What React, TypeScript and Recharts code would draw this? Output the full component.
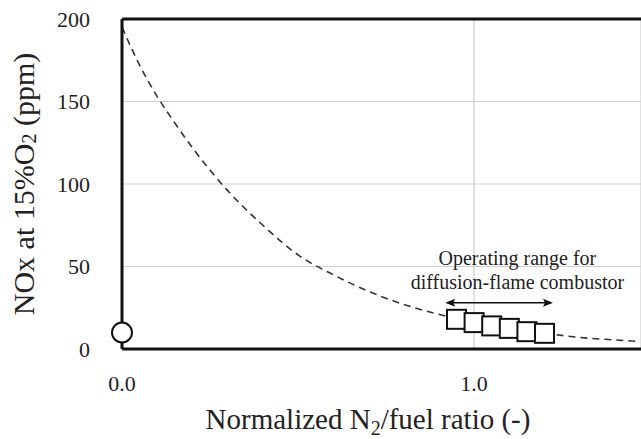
import React from 'react';
import {
  ComposedChart,
  Line,
  Scatter,
  XAxis,
  YAxis,
  CartesianGrid,
  ReferenceLine,
  ReferenceDot,
  Label,
} from 'recharts';

const curveX = [0, 0.05, 0.1, 0.15, 0.2, 0.3, 0.4, 0.5, 0.6, 0.7, 0.8, 0.9, 1.0, 1.1, 1.2, 1.3, 1.4, 1.47];
const curveY = [195, 172, 153, 137, 122, 96, 75, 57, 45, 35, 27, 21, 16, 12, 9.5, 7, 5.5, 4.5];

const rangeX = [0.95, 1.0, 1.05, 1.1, 1.15, 1.2];
const rangeY = [18, 16, 14, 12.5, 10.5, 9.5];

const baseX = [0];
const baseY = [10];

const xTicks = [0, 1];
const yTicks = [0, 50, 100, 150, 200];

const arrowX = [0.918, 1.224];
const arrowY = 28;

const noteX = 1.123;
const noteY = [55, 40.5];
const noteLines = ['Operating range for', 'diffusion-flame combustor'];

const curveData = curveX.map((x, i) => ({ x, y: curveY[i] }));
const rangeData = rangeX.map((x, i) => ({ x, y: rangeY[i] }));
const baseData = baseX.map((x, i) => ({ x, y: baseY[i] }));

const FONT = '"Liberation Serif", "Times New Roman", serif';
const INK = '#222';

const SquareShape = (p: any) => (
  <rect x={p.cx - 9.5} y={p.cy - 9.5} width={19} height={19} fill="#fff" stroke="#111" strokeWidth={2} />
);
const CircleShape = (p: any) => (
  <circle cx={p.cx} cy={p.cy} r={10} fill="#fff" stroke="#111" strokeWidth={2} />
);

const ArrowShape = (p: any) => {
  const { x1, y1, x2, y2 } = p;
  const L = 10;
  const W = 4;
  return (
    <g>
      <line x1={x1 + 2} y1={y1} x2={x2 - 2} y2={y2} stroke="#111" strokeWidth={1.6} />
      <polygon points={`${x1},${y1} ${x1 + L},${y1 - W} ${x1 + L - 2},${y1} ${x1 + L},${y1 + W}`} fill="#111" />
      <polygon points={`${x2},${y2} ${x2 - L},${y2 - W} ${x2 - L + 2},${y2} ${x2 - L},${y2 + W}`} fill="#111" />
    </g>
  );
};

const YLabel = (p: any) => {
  const vb = p.viewBox || { x: 0, y: 0, width: 0, height: 0 };
  const cx = vb.x + 23;
  const cy = vb.y + vb.height / 2;
  return (
    <text
      x={cx}
      y={cy}
      transform={`rotate(-90, ${cx}, ${cy})`}
      textAnchor="middle"
      dominantBaseline="central"
      fontFamily={FONT}
      fontSize={30}
      fill={INK}
    >
      <tspan>NOx at 15%O</tspan>
      <tspan fontSize={20} dy={6}>2</tspan>
      <tspan dy={-6}> (ppm)</tspan>
    </text>
  );
};

const XLabel = (p: any) => {
  const vb = p.viewBox || { x: 0, y: 0, width: 0, height: 0 };
  const cx = vb.x + 246;
  const by = vb.y + 80;
  return (
    <text x={cx} y={by} textAnchor="middle" fontFamily={FONT} fontSize={29} fill={INK}>
      <tspan>Normalized N</tspan>
      <tspan fontSize={20} dy={6}>2</tspan>
      <tspan dy={-6}>/fuel ratio (-)</tspan>
    </text>
  );
};

export default function App() {
  return (
    <div style={{ position: 'absolute', left: 0, top: 0, background: '#fff' }}>
      <ComposedChart
        width={641}
        height={439}
        margin={{ top: 19, right: 0, bottom: 0, left: 0 }}
      >
        <CartesianGrid stroke="#cfcfcf" strokeWidth={1.2} />
        <XAxis
          type="number"
          dataKey="x"
          domain={[0, 1.474]}
          ticks={xTicks}
          height={90}
          tickLine={false}
          tickMargin={20}
          tickFormatter={(v: number) => v.toFixed(1)}
          tick={{ fontSize: 22, fontFamily: FONT, fill: INK }}
          axisLine={{ stroke: '#111', strokeWidth: 3 }}
        >
          <Label content={<XLabel />} />
        </XAxis>
        <YAxis
          type="number"
          dataKey="y"
          domain={[0, 200]}
          ticks={yTicks}
          width={122}
          tickLine={false}
          tickMargin={26}
          tick={{ fontSize: 22, fontFamily: FONT, fill: INK }}
          axisLine={{ stroke: '#111', strokeWidth: 3 }}
        >
          <Label content={<YLabel />} />
        </YAxis>
        <ReferenceLine y={200} stroke="#111" strokeWidth={3} />
        <Line
          data={curveData}
          dataKey="y"
          type="monotone"
          stroke="#333"
          strokeWidth={1.6}
          strokeDasharray="7 5"
          dot={false}
          activeDot={false}
          isAnimationActive={false}
        />
        <ReferenceLine
          segment={[
            { x: arrowX[0], y: arrowY },
            { x: arrowX[1], y: arrowY },
          ]}
          shape={<ArrowShape />}
        />
        {noteLines.map((t, i) => (
          <ReferenceDot
            key={t}
            x={noteX}
            y={noteY[i]}
            r={0}
            stroke="none"
            fill="none"
            label={{ value: t, position: 'center', fontSize: 20, fontFamily: FONT, fill: INK }}
          />
        ))}
        <Scatter data={rangeData} dataKey="y" shape={<SquareShape />} isAnimationActive={false} />
        <Scatter data={baseData} dataKey="y" shape={<CircleShape />} isAnimationActive={false} />
      </ComposedChart>
    </div>
  );
}
